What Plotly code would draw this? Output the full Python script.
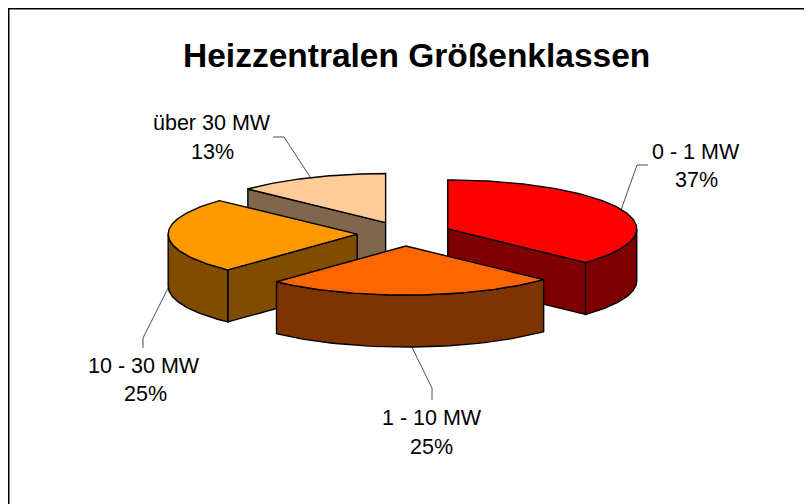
import numpy as np
import plotly.graph_objects as go

title = "Heizzentralen Größenklassen"
categories = ["0 - 1 MW", "1 - 10 MW", "10 - 30 MW", "über 30 MW"]
shares = [37, 25, 25, 13]
top_colors = ["#FF0000", "#FF6600", "#FF9900", "#FFCC99"]
side_colors = ["#7F0000", "#7F3300", "#7F4C00", "#7F664C"]

# pie projection (pixels of the 812x504 page)
CX, CY, A, B, DEPTH, EXPLODE = 404.4, 233.8, 189.0, 49.0, 52.0, 0.25
FONT = "Liberation Sans, Arial, sans-serif"

# name position, pct position, leader elbow, leader end per category
label_pos = [
    ((695.5, 152), (696, 180), (637, 165), (648, 165)),
    ((432, 418), (431, 447), (432, 388), (432, 400)),
    ((144, 366), (145, 394), (143, 338), (143, 348)),
    ((212, 123), (212, 152), (284, 137), (273, 137)),
]

total = sum(shares)
edges = np.cumsum([0] + shares) / total * 2 * np.pi
slices = []
for i in range(len(shares)):
    s, e = edges[i], edges[i + 1]
    mid = (s + e) / 2
    slices.append(dict(
        s=s, e=e, mid=mid,
        ax=CX + A * EXPLODE * np.sin(mid),
        ay=CY - B * EXPLODE * np.cos(mid),
    ))


def px(sl, t):
    return sl["ax"] + A * np.sin(t), sl["ay"] - B * np.cos(t)


fig = go.Figure()


def poly(xs, ys, color):
    fig.add_trace(go.Scatter(
        x=list(xs) + [xs[0]], y=list(ys) + [ys[0]], mode="lines", fill="toself",
        fillcolor=color, line=dict(color="#000000", width=1.4),
        hoverinfo="skip", showlegend=False, xaxis="x", yaxis="y",
    ))


def cut_face(sl, t, color):
    x, y = px(sl, t)
    poly([sl["ax"], x, x, sl["ax"]], [sl["ay"], y, y + DEPTH, sl["ay"] + DEPTH], color)


order = [3, 0, 2, 1]  # back to front
for i in order:
    sl = slices[i]
    if np.sin(sl["s"]) < -1e-6:
        cut_face(sl, sl["s"], side_colors[i])
    if np.sin(sl["e"]) > 1e-6:
        cut_face(sl, sl["e"], side_colors[i])
    lo, hi = max(sl["s"], np.pi / 2), min(sl["e"], 3 * np.pi / 2)
    if hi > lo:
        t = np.linspace(lo, hi, 60)
        x, y = px(sl, t)
        poly(np.r_[x, x[::-1]], np.r_[y, y[::-1] + DEPTH], side_colors[i])
    t = np.linspace(sl["s"], sl["e"], 120)
    x, y = px(sl, t)
    poly(np.r_[sl["ax"], x], np.r_[sl["ay"], y], top_colors[i])

annotations = [dict(text=f"<b>{title}</b>", x=416.5, y=55, xref="x", yref="y", showarrow=False,
                    font=dict(family=FONT, size=33.5, color="#000000"))]
for i, (name, val) in enumerate(zip(categories, shares)):
    name_xy, pct_xy, elbow, end = label_pos[i]
    annotations.append(dict(text=name, x=name_xy[0], y=name_xy[1], xref="x", yref="y", showarrow=False,
                            font=dict(family=FONT, size=21.5, color="#000000")))
    annotations.append(dict(text=f"{val}%", x=pct_xy[0], y=pct_xy[1], xref="x", yref="y", showarrow=False,
                            font=dict(family=FONT, size=21.5, color="#000000")))
    sl = slices[i]
    sx, sy = px(sl, sl["mid"])
    if np.cos(sl["mid"]) < 0 or np.sin(sl["mid"]) < 0 and abs(np.cos(sl["mid"])) < 0.2:
        sy += DEPTH
    fig.add_trace(go.Scatter(x=[sx, elbow[0], end[0]], y=[sy, elbow[1], end[1]], mode="lines",
                             line=dict(color="#222222", width=0.8), hoverinfo="skip", showlegend=False))

# the page has an 8 px body margin, so the figure covers page pixels 8..812 / 8..504
fig.update_layout(
    width=804, height=496, margin=dict(l=0, r=0, t=0, b=0), autosize=False,
    paper_bgcolor="#FFFFFF", plot_bgcolor="#FFFFFF",
    xaxis=dict(range=[8, 812], visible=False, fixedrange=True),
    yaxis=dict(range=[504, 8], visible=False, fixedrange=True),
    annotations=annotations,
    shapes=[
        dict(type="line", xref="x", yref="y", x0=8.5, x1=8.5, y0=8, y1=504, line=dict(color="#000000", width=2)),
        dict(type="line", xref="x", yref="y", x0=8, x1=812, y0=8.5, y1=8.5, line=dict(color="#000000", width=2)),
    ],
)
fig.write_html("out.html", config=dict(displayModeBar=False))
